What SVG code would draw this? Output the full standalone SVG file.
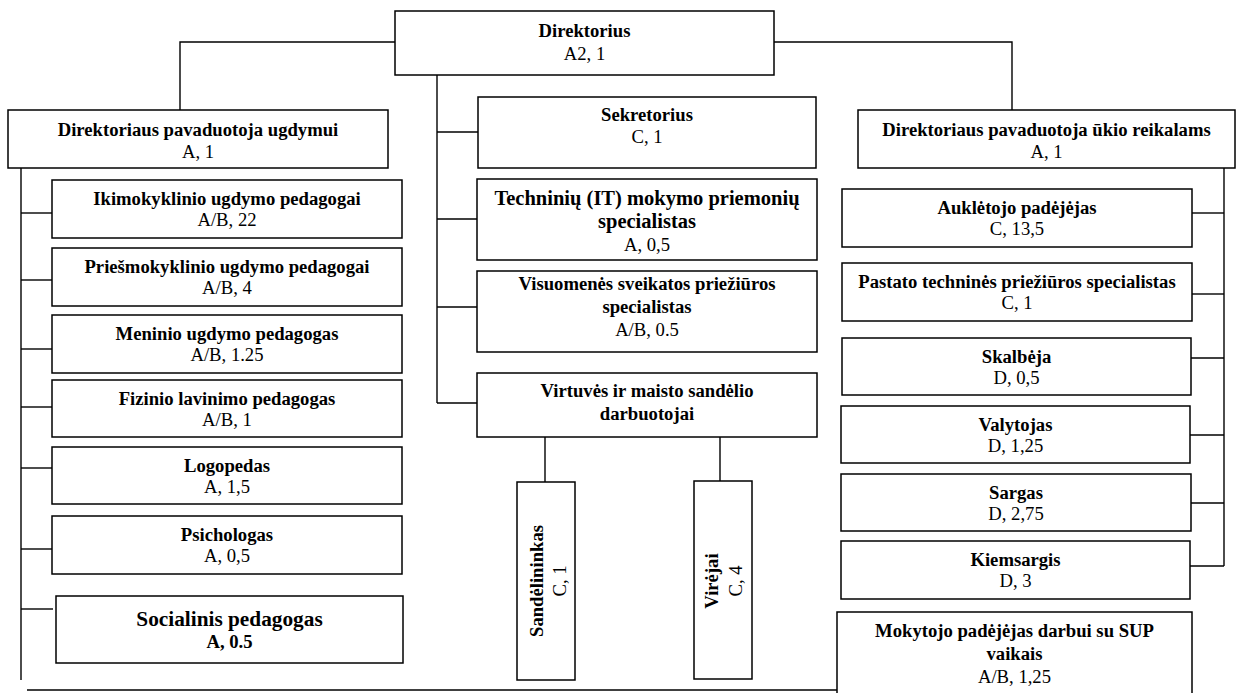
<svg xmlns="http://www.w3.org/2000/svg" width="1240" height="693" viewBox="0 0 1240 693">
<style>
.box{fill:#fff;stroke:#000;stroke-width:1.5}
.ln{fill:none;stroke:#000;stroke-width:1.4}
text{font-family:"Liberation Serif","Times New Roman",serif;font-size:18.67px;fill:#000;text-anchor:middle}
.b{font-weight:bold}
.big{font-weight:bold;font-size:20.5px}
.soc{font-weight:bold;font-size:21.3px}
</style>
<rect width="1240" height="693" fill="#fff"/>
<g id="connectors">
<polyline class="ln" points="395,42 180,42 180,110"/>
<polyline class="ln" points="774,42 1012,42 1012,110"/>
<line class="ln" x1="437" y1="75" x2="437" y2="403"/>
<line class="ln" x1="437" y1="132" x2="478" y2="132"/>
<line class="ln" x1="437" y1="219" x2="477" y2="219"/>
<line class="ln" x1="437" y1="307" x2="477" y2="307"/>
<line class="ln" x1="437" y1="403" x2="477" y2="403"/>
<line class="ln" x1="545" y1="437" x2="545" y2="482"/>
<line class="ln" x1="720" y1="437" x2="720" y2="481"/>
<line class="ln" x1="21" y1="168" x2="21" y2="680"/>
<line class="ln" x1="21" y1="213" x2="52" y2="213"/>
<line class="ln" x1="21" y1="280" x2="52" y2="280"/>
<line class="ln" x1="21" y1="349" x2="52" y2="349"/>
<line class="ln" x1="21" y1="407" x2="52" y2="407"/>
<line class="ln" x1="21" y1="468" x2="52" y2="468"/>
<line class="ln" x1="21" y1="549" x2="52" y2="549"/>
<line class="ln" x1="21" y1="609" x2="53" y2="609"/>
<line class="ln" x1="27" y1="690" x2="837" y2="690"/>
<line class="ln" x1="1224" y1="168" x2="1224" y2="566"/>
<line class="ln" x1="1192" y1="213" x2="1224" y2="213"/>
<line class="ln" x1="1192" y1="294" x2="1224" y2="294"/>
<line class="ln" x1="1191" y1="358" x2="1224" y2="358"/>
<line class="ln" x1="1190" y1="435" x2="1224" y2="435"/>
<line class="ln" x1="1191" y1="503" x2="1224" y2="503"/>
<line class="ln" x1="1190" y1="566" x2="1224" y2="566"/>
</g>
<g id="direktorius"><rect class="box" x="395" y="11" width="379" height="64"/><text class="b" x="584.5" y="37">Direktorius</text><text x="584.5" y="60">A2, 1</text></g>
<g id="pav-ugdymui"><rect class="box" x="8" y="110" width="380" height="58"/><text class="b" x="198" y="136">Direktoriaus pavaduotoja ugdymui</text><text x="198" y="158">A, 1</text></g>
<g id="pav-ukio"><rect class="box" x="858" y="110" width="377" height="58"/><text class="b" x="1046.5" y="136">Direktoriaus pavaduotoja ūkio reikalams</text><text x="1046.5" y="158">A, 1</text></g>
<g id="sekretorius"><rect class="box" x="478" y="97" width="338" height="71"/><text class="b" x="647" y="121">Sekretorius</text><text x="647" y="143">C, 1</text></g>
<g id="it"><rect class="box" x="477" y="179" width="340" height="81"/><text class="big" x="647" y="205">Techninių (IT) mokymo priemonių</text><text class="big" x="647" y="228">specialistas</text><text x="647" y="251">A, 0,5</text></g>
<g id="sveikata"><rect class="box" x="477" y="271" width="340" height="81"/><text class="b" x="647" y="290">Visuomenės sveikatos priežiūros</text><text class="b" x="647" y="313">specialistas</text><text x="647" y="336">A/B, 0.5</text></g>
<g id="virtuve"><rect class="box" x="477" y="373" width="340" height="64"/><text class="b" x="647" y="397">Virtuvės ir maisto sandėlio</text><text class="b" x="647" y="420">darbuotojai</text></g>
<g id="sandelininkas"><rect class="box" x="517" y="482" width="58" height="198"/><text class="b" transform="translate(543,581) rotate(-90)">Sandėlininkas</text><text transform="translate(566,581) rotate(-90)">C, 1</text></g>
<g id="virejai"><rect class="box" x="694" y="481" width="58" height="198"/><text class="b" transform="translate(718,581) rotate(-90)">Virėjai</text><text transform="translate(742,581) rotate(-90)">C, 4</text></g>
<g id="ikimokyklinio"><rect class="box" x="52" y="180" width="350" height="58"/><text class="b" x="227" y="205">Ikimokyklinio ugdymo pedagogai</text><text x="227" y="226">A/B, 22</text></g>
<g id="priesmokyklinio"><rect class="box" x="52" y="248" width="350" height="58"/><text class="b" x="227" y="273">Priešmokyklinio ugdymo pedagogai</text><text x="227" y="294">A/B, 4</text></g>
<g id="meninio"><rect class="box" x="52" y="315" width="350" height="58"/><text class="b" x="227" y="340">Meninio ugdymo pedagogas</text><text x="227" y="361">A/B, 1.25</text></g>
<g id="fizinio"><rect class="box" x="52" y="380" width="350" height="57"/><text class="b" x="227" y="405">Fizinio lavinimo pedagogas</text><text x="227" y="426">A/B, 1</text></g>
<g id="logopedas"><rect class="box" x="52" y="447" width="350" height="57"/><text class="b" x="227" y="472">Logopedas</text><text x="227" y="493">A, 1,5</text></g>
<g id="psichologas"><rect class="box" x="52" y="516" width="350" height="58"/><text class="b" x="227" y="541">Psichologas</text><text x="227" y="562">A, 0,5</text></g>
<g id="socialinis"><rect class="box" x="56" y="596" width="347" height="67"/><text class="soc" x="229.5" y="626">Socialinis pedagogas</text><text class="b" x="229.5" y="648">A, 0.5</text></g>
<g id="aukletojo"><rect class="box" x="842" y="189" width="350" height="58"/><text class="b" x="1017" y="214">Auklėtojo padėjėjas</text><text x="1017" y="235">C, 13,5</text></g>
<g id="pastato"><rect class="box" x="842" y="263" width="350" height="58"/><text class="b" x="1017" y="288">Pastato techninės priežiūros specialistas</text><text x="1017" y="309">C, 1</text></g>
<g id="skalbeja"><rect class="box" x="842" y="338" width="349" height="57"/><text class="b" x="1016.5" y="363">Skalbėja</text><text x="1016.5" y="384">D, 0,5</text></g>
<g id="valytojas"><rect class="box" x="841" y="406" width="349" height="57"/><text class="b" x="1015.5" y="431">Valytojas</text><text x="1015.5" y="452">D, 1,25</text></g>
<g id="sargas"><rect class="box" x="841" y="474" width="350" height="57"/><text class="b" x="1016" y="499">Sargas</text><text x="1016" y="520">D, 2,75</text></g>
<g id="kiemsargis"><rect class="box" x="841" y="541" width="349" height="58"/><text class="b" x="1015.5" y="566">Kiemsargis</text><text x="1015.5" y="587">D, 3</text></g>
<g id="mokytojo"><rect class="box" x="837" y="612" width="355" height="100"/><text class="b" x="1014.5" y="637">Mokytojo padėjėjas darbui su SUP</text><text class="b" x="1014.5" y="660">vaikais</text><text x="1014.5" y="683">A/B, 1,25</text></g>
</svg>
